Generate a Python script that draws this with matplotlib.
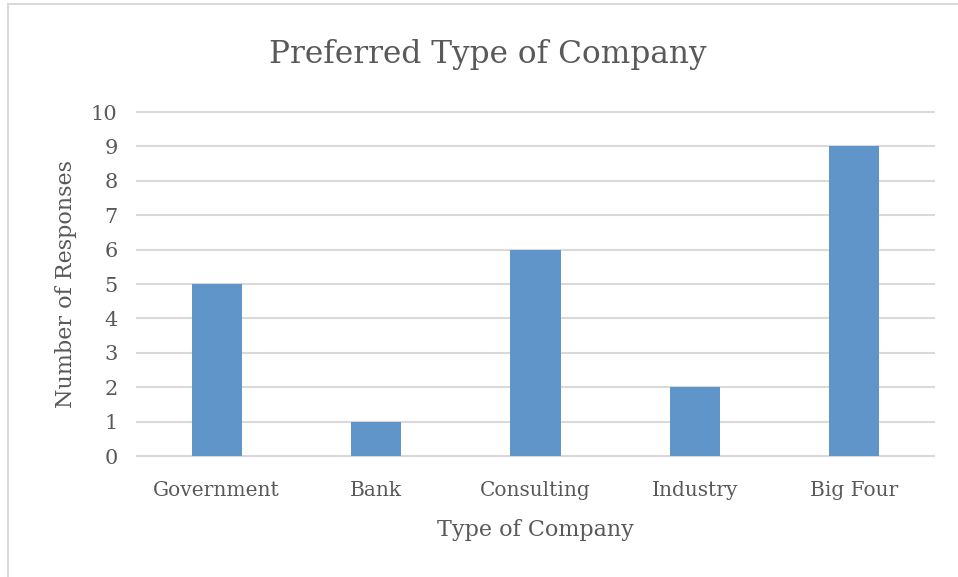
import matplotlib.pyplot as plt
from matplotlib.patches import Rectangle

# Survey results: preferred type of company
categories = ["Government", "Bank", "Consulting", "Industry", "Big Four"]
responses = [5, 1, 6, 2, 9]
y_ticks = list(range(0, 11))

text_gray = "#595959"
bar_blue = "#6095C9"
grid_gray = "#D9D9D9"

plt.rcParams['font.family'] = ['DejaVu Serif']

fig = plt.figure(figsize=(9.58, 5.77), dpi=100)
ax = fig.add_axes([137 / 958, 1 - 456 / 577, (934 - 137) / 958, (456 - 112) / 577])

# light chart-area border (top and left edges visible)
fig.patches.append(Rectangle((8 / 958, -0.1), 1.2, 1 - 4 / 577 + 0.1,
                             transform=fig.transFigure, fill=False,
                             edgecolor="#D9D9D9", linewidth=1.5))

x = range(len(categories))
ax.bar(x, responses, width=0.315, color=bar_blue, zorder=3)

ax.set_xlim(-0.5, len(categories) - 0.5)
ax.set_ylim(0, 10)
ax.set_yticks(y_ticks)
ax.set_xticks(list(x))
ax.set_xticklabels(categories)
ax.yaxis.grid(True, color=grid_gray, linewidth=1.5, zorder=0)
for gl in ax.get_ygridlines():
    gl.set_clip_on(False)

for side in ["top", "right", "left"]:
    ax.spines[side].set_visible(False)
ax.spines["bottom"].set_color(grid_gray)
ax.spines["bottom"].set_linewidth(1.5)

ax.tick_params(axis="both", length=0, colors=text_gray, labelsize=15)
ax.tick_params(axis="y", pad=14)
ax.tick_params(axis="x", pad=18, labelsize=14.5)

ax.set_xlabel("Type of Company", fontsize=16, color=text_gray, labelpad=14)
ax.set_ylabel("Number of Responses", fontsize=16, color=text_gray, labelpad=10)

fig.text(488 / 958, 1 - 55 / 577, "Preferred Type of Company", fontsize=22.5,
         color=text_gray, ha="center", va="center")

fig.savefig("out.png", dpi=100)
